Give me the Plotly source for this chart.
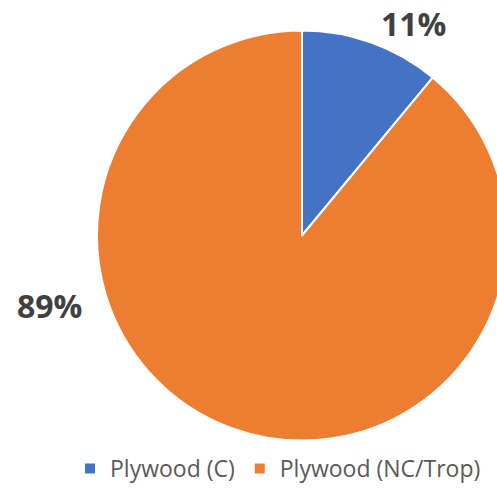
import plotly.graph_objects as go

categories = ["Plywood (C)", "Plywood (NC/Trop)"]
values = [11, 89]
colors = ["#4472C4", "#ED7D31"]

W, H = 512, 490
total = sum(values)
pct_labels = [f"{round(v / total * 100)}%" for v in values]

fig = go.Figure(go.Pie(
    labels=categories,
    values=values,
    marker=dict(colors=colors, line=dict(color="white", width=2)),
    sort=False,
    direction="clockwise",
    rotation=0,
    textinfo="none",
    hoverinfo="label+percent",
    domain=dict(x=[97 / W, 507 / W], y=[1 - 441 / H, 1 - 30 / H]),
))

label_pos = [(413, 0), (49, 305)]
label_anchor = ["top", "middle"]
for txt, (px, py), ya in zip(pct_labels, label_pos, label_anchor):
    fig.add_annotation(
        text=f"<b>{txt}</b>", x=px / W, y=1 - py / H, xref="paper", yref="paper",
        showarrow=False, xanchor="center", yanchor=ya,
        font=dict(family="Open Sans", size=32, color="#404040"),
    )

fig.update_layout(
    width=W, height=H,
    margin=dict(l=0, r=0, t=0, b=0),
    paper_bgcolor="white", plot_bgcolor="white",
    showlegend=True,
    legend=dict(
        orientation="h", x=278 / W, xanchor="center", y=0, yanchor="bottom",
        font=dict(family="Open Sans", size=23, color="#595959"),
        itemwidth=30, tracegroupgap=0,
    ),
)

fig.write_html(
    "out.html",
    post_script="document.body.style.overflow='hidden';document.documentElement.style.overflow='hidden';document.body.style.margin='0';",
)
